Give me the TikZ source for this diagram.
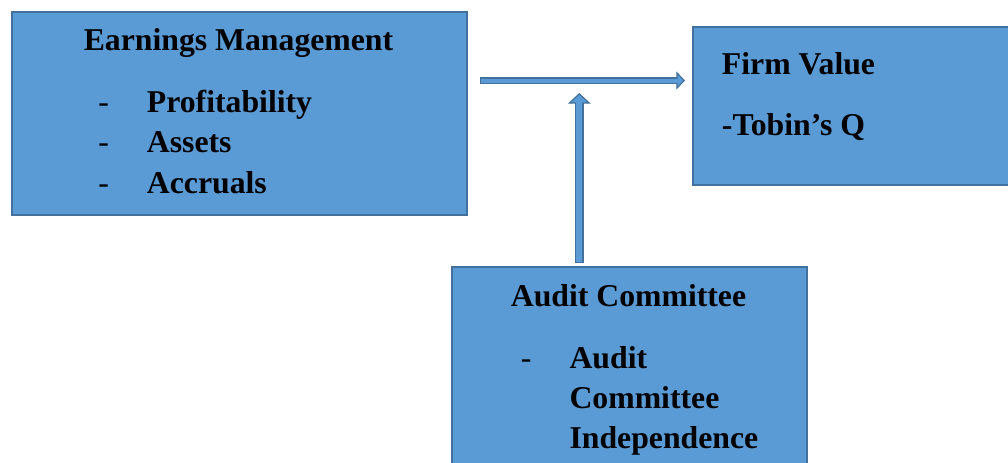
\documentclass[tikz,border=0pt]{standalone}
\usepackage{fontspec}
\setmainfont{Liberation Serif}
\usepackage{xcolor}
\usepackage{tikz}
\usetikzlibrary{arrows.meta,calc,positioning}

\definecolor{boxblue}{HTML}{5B9BD5}
\definecolor{edgeblue}{HTML}{41719C}

\tikzset{
  box/.style={draw=edgeblue,fill=boxblue,line width=1.5pt,anchor=north west,inner sep=0pt},
  lbl/.style={font=\fontsize{23.8pt}{30.75pt}\selectfont\bfseries,inner sep=0pt,anchor=base west},
  hyph/.style={font=\fontsize{23.8pt}{30.75pt}\selectfont,inner sep=0pt,anchor=base west},
  flowarrow/.style n args={4}{draw=edgeblue,line width=#1,
    -{Triangle[length=#3,width=#4,line width=0.9pt,fill=boxblue]},
    postaction={draw=boxblue,line width=#2,-,shorten <=0.9pt,shorten >=#3-1.8pt}}
}

\begin{document}
\begin{tikzpicture}[x=0.75pt,y=-0.75pt]
    \useasboundingbox (0,0) rectangle (1008,462);
    \clip (0,0) rectangle (1008,462);

    % the three boxes
    \node[box,minimum width=341.25pt,minimum height=152.25pt] (em) at (11,10.5) {};
    \node[box,minimum width=247.5pt,minimum height=118.5pt] (fv) at (692,26) {};
    \node[box,minimum width=266.25pt,minimum height=157.5pt] (ac) at (451,265.5) {};

    % earnings management
    \node[lbl,anchor=base] (emtitle) at (238.5,50.7) {Earnings Management};
    \node[hyph] (emd1) at (98,112) {-};
    \node[lbl] (em1) at (146.7,112) {Profitability};
    \node[hyph] (emd2) at (98,152.7) {-};
    \node[lbl] (em2) at (146.7,152.7) {Assets};
    \node[hyph] (emd3) at (98,193.3) {-};
    \node[lbl] (em3) at (146.7,193.3) {Accruals};

    % firm value
    \node[lbl] (fvtitle) at (721.7,74.3) {Firm Value};
    \node[lbl] (fv1) at (721.7,135) {-Tobin’s Q};

    % audit committee
    \node[lbl,anchor=base] (actitle) at (628.5,306.7) {Audit Committee};
    \node[hyph] (acd1) at (520.5,368.3) {-};
    \node[lbl] (ac1) at (569.3,368.3) {Audit};
    \node[lbl] (ac2) at (569.3,408.3) {Committee};
    \node[lbl] (ac3) at (569.3,448.3) {Independence};

    % arrows
    \coordinate (hstart) at (480,80.5);
    \coordinate (hend) at (685,80.5);
    \coordinate (vstart) at (579.3,263);
    \coordinate (vend) at (579.3,93);
    \draw[flowarrow={5pt}{3pt}{6.5pt}{13.5pt}] (hstart) -- (hend);
    \draw[flowarrow={7pt}{4.4pt}{8pt}{17pt}] (vstart) -- (vend);
\end{tikzpicture}
\end{document}
